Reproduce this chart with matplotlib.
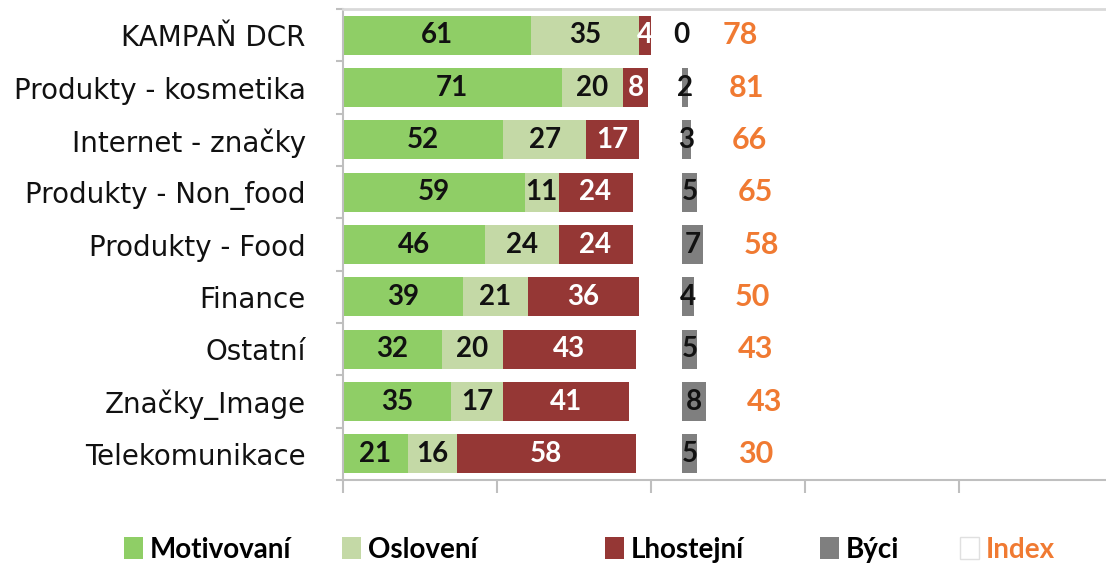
import numpy as np
import matplotlib.pyplot as plt
from matplotlib.patches import Patch

plt.rcParams['font.family'] = ['Lato', 'DejaVu Sans']

# data (top row first)
categories = ["KAMPAŇ DCR", "Produkty - kosmetika", "Internet - značky", "Produkty - Non_food",
              "Produkty - Food", "Finance", "Ostatní", "Značky_Image", "Telekomunikace"]
motivovani = [61, 71, 52, 59, 46, 39, 32, 35, 21]
osloveni = [35, 20, 27, 11, 24, 21, 20, 17, 16]
lhostejni = [4, 8, 17, 24, 24, 36, 43, 41, 58]
byci = [0, 2, 3, 5, 7, 4, 5, 8, 5]
index_vals = [78, 81, 66, 65, 58, 50, 43, 43, 30]

c_mot = "#8fce66"
c_osl = "#c4d9a6"
c_lho = "#953735"
c_byc = "#7f7f7f"
c_idx = "#f07a32"

byci_start = 110   # Býci column begins after a blank gap
label_off = 19     # where the index labels sit after the Býci bar

fig = plt.figure(figsize=(11.06, 5.69), dpi=100)
ax = fig.add_axes([343 / 1106, 1 - 480 / 569, 770 / 1106, 471 / 569])

y = np.arange(len(categories))
h = 0.75
mot = np.array(motivovani)
osl = np.array(osloveni)
lho = np.array(lhostejni)
byc = np.array(byci)

b1 = ax.barh(y, mot, height=h, color=c_mot)
b2 = ax.barh(y, osl, left=mot, height=h, color=c_osl)
b3 = ax.barh(y, lho, left=mot + osl, height=h, color=c_lho)
b4 = ax.barh(y, byc, left=byci_start, height=h, color=c_byc)
b5 = ax.barh(y, index_vals, left=byci_start + byc, height=h, color="white")

num = dict(fontsize=20, fontweight="bold")
ax.bar_label(b1, labels=[str(v) for v in motivovani], label_type="center", color="#111111", **num)
ax.bar_label(b2, labels=[str(v) for v in osloveni], label_type="center", color="#111111", **num)
ax.bar_label(b3, labels=[str(v) for v in lhostejni], label_type="center", color="white", **num)
ax.bar_label(b4, labels=[str(v) for v in byci], label_type="center", color="#111111", **num)
for yi, b, v in zip(y, byci, index_vals):
    ax.text(byci_start + b + label_off, yi, str(v), color=c_idx, fontsize=22,
            fontweight="bold", ha="center", va="center")

ax.set_xlim(0, 250)
ax.set_ylim(len(categories) - 0.5, -0.5)

ax.set_yticks(y)
ax.set_yticklabels(categories, fontsize=20, color="#111111", family="DejaVu Sans")
ax.tick_params(axis="y", which="major", length=0, pad=27)
ax.set_yticks(np.arange(len(categories) + 1) - 0.5, minor=True)
ax.tick_params(axis="y", which="minor", length=5, width=1.5, color="#bfbfbf")

ax.set_xticks(np.arange(0, 251, 50))
ax.set_xticklabels([])
ax.tick_params(axis="x", length=9, width=1.5, color="#bfbfbf", direction="out")

for s in ["left", "bottom"]:
    ax.spines[s].set_color("#bfbfbf")
    ax.spines[s].set_linewidth(1.5)
ax.spines["top"].set_color("#d9d9d9")
ax.spines["top"].set_linewidth(2)
ax.spines["right"].set_visible(False)

# legend entries sit at uneven spacing, so each one is placed on its own
handles = [Patch(facecolor=c_mot), Patch(facecolor=c_osl), Patch(facecolor=c_lho),
           Patch(facecolor=c_byc), Patch(facecolor="white", edgecolor="#e0e0e0")]
names = ["Motivovaní", "Oslovení", "Lhostejní", "Býci", "Index"]
leg_x = [124, 342, 605, 820, 960]
for hnd, name, lx in zip(handles, names, leg_x):
    leg = fig.legend([hnd], [name], loc="center left", bbox_to_anchor=(lx / 1106, 0.034),
                     frameon=False, borderpad=0, borderaxespad=0,
                     prop=dict(family="Lato", weight="bold", size=20),
                     handlelength=0.7, handleheight=0.85, handletextpad=0.22)
    if name == "Index":
        leg.get_texts()[0].set_color(c_idx)

fig.savefig("out.png", dpi=100)
